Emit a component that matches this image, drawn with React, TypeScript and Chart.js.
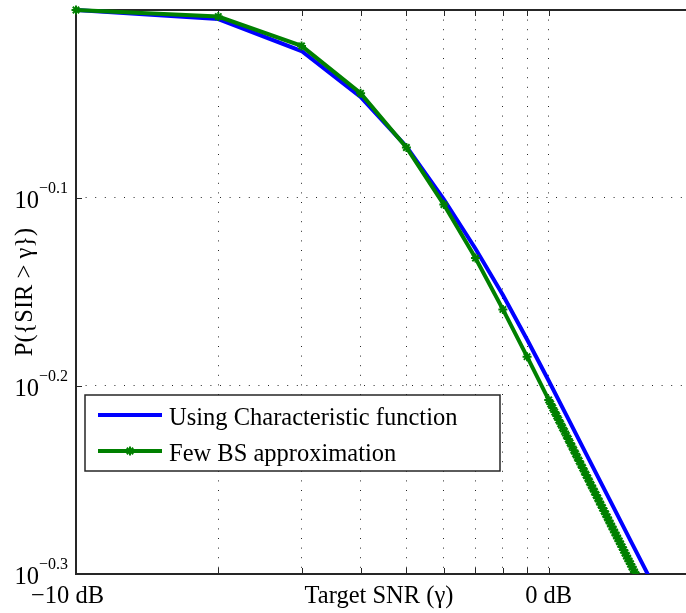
import React, { useEffect, useRef } from "react";
import { Chart, registerables } from "chart.js";

Chart.register(...registerables);

// ---------- data ----------
const charFnGamma = [0.1, 0.2, 0.3, 0.4, 0.5, 0.6, 0.7, 0.8, 0.9, 1.0, 1.1, 1.2, 1.3, 1.4, 1.5, 1.6, 1.7];
const charFnProb = [1.0, 0.989, 0.951, 0.899, 0.846, 0.793, 0.7465, 0.7054, 0.668, 0.635, 0.6061, 0.5806, 0.5583, 0.5383, 0.5203, 0.5042, 0.4893];

const fewBsGamma = [
  0.1, 0.2, 0.3, 0.4, 0.5, 0.6, 0.7, 0.8, 0.9,
  1.0, 1.01, 1.02, 1.03, 1.04, 1.05, 1.06, 1.07, 1.08, 1.09,
  1.1, 1.11, 1.12, 1.13, 1.14, 1.15, 1.16, 1.17, 1.18, 1.19,
  1.2, 1.21, 1.22, 1.23, 1.24, 1.25, 1.26, 1.27, 1.28, 1.29,
  1.3, 1.31, 1.32, 1.33, 1.34, 1.35, 1.36, 1.37, 1.38, 1.39,
  1.4, 1.41, 1.42, 1.43, 1.44, 1.45, 1.46, 1.47, 1.48, 1.49,
  1.5, 1.51, 1.52, 1.53, 1.54, 1.55, 1.56,
];
const fewBsProb = [
  1.0, 0.992, 0.957, 0.903, 0.845, 0.788, 0.738, 0.693, 0.654,
  0.6203, 0.6172, 0.6142, 0.6111, 0.6082, 0.6052, 0.6024, 0.5995, 0.5968, 0.5939,
  0.5913, 0.5885, 0.5859, 0.5832, 0.5807, 0.5781, 0.5756, 0.5731, 0.5707, 0.5682,
  0.5658, 0.5635, 0.5611, 0.5588, 0.5566, 0.5543, 0.5521, 0.5499, 0.5477, 0.5456,
  0.5434, 0.5414, 0.5393, 0.5373, 0.5352, 0.5332, 0.5312, 0.5293, 0.5273, 0.5254,
  0.5235, 0.5217, 0.5198, 0.518, 0.5161, 0.5144, 0.5125, 0.5108, 0.509, 0.5074,
  0.5056, 0.504, 0.5022, 0.5006, 0.4989, 0.4974, 0.4957,
];

const xGridValues = [0.1, 0.2, 0.3, 0.4, 0.5, 0.6, 0.7, 0.8, 0.9, 1.0];
const xLabelValues = [0.1, 1.0];
const xLabelTexts = ["\u221210 dB", "0 dB"];
const yTickExponents = [-0.3, -0.2, -0.1];
const yTickExpTexts = ["\u22120.3", "\u22120.2", "\u22120.1"];
const yTickBase = "10";

const xMin = 0.1;
const xMax = 2;
const yMinExp = -0.3;
const yMaxExp = 0;

const seriesNames = ["Using Characteristic function", "Few BS approximation"];
const xTitle = "Target SNR (\u03b3)";
const yTitle = "P({SIR > \u03b3})";

const BLUE = "#0000ff";
const GREEN = "#008000";
const AXIS = "#262626";
const FONT = "'Liberation Serif', 'Times New Roman', serif";

function drawStar(ctx: CanvasRenderingContext2D, x: number, y: number, r: number) {
  ctx.beginPath();
  ctx.moveTo(x - r, y);
  ctx.lineTo(x + r, y);
  ctx.moveTo(x, y - r);
  ctx.lineTo(x, y + r);
  const d = r * Math.SQRT1_2;
  ctx.moveTo(x - d, y - d);
  ctx.lineTo(x + d, y + d);
  ctx.moveTo(x - d, y + d);
  ctx.lineTo(x + d, y - d);
  ctx.stroke();
}

const matlabPlugin = {
  id: "matlabDecor",
  beforeDatasetsDraw(chart: any) {
    const { ctx, chartArea: a, scales } = chart;
    ctx.save();
    ctx.strokeStyle = AXIS;
    ctx.lineWidth = 1;
    // inward tick marks
    xGridValues.forEach((v) => {
      const px = Math.round(scales.x.getPixelForValue(v)) + 0.5;
      ctx.beginPath();
      ctx.moveTo(px, a.bottom);
      ctx.lineTo(px, a.bottom - 6);
      ctx.moveTo(px, a.top);
      ctx.lineTo(px, a.top + 6);
      ctx.stroke();
    });
    yTickExponents.forEach((e) => {
      const py = Math.round(scales.y.getPixelForValue(Math.pow(10, e))) + 0.5;
      ctx.beginPath();
      ctx.moveTo(a.left, py);
      ctx.lineTo(a.left + 6, py);
      ctx.stroke();
    });
    // box
    ctx.lineWidth = 2;
    ctx.strokeRect(a.left, a.top, a.right - a.left, a.bottom - a.top);
    ctx.restore();
  },
  afterDraw(chart: any) {
    const { ctx, chartArea: a, scales } = chart;
    ctx.save();
    ctx.fillStyle = "#000";

    // y tick labels 10^exp
    yTickExponents.forEach((e, i) => {
      const py = scales.y.getPixelForValue(Math.pow(10, e));
      const expRight = a.left - 8;
      ctx.font = `16px ${FONT}`;
      ctx.textAlign = "right";
      ctx.textBaseline = "alphabetic";
      const w = ctx.measureText(yTickExpTexts[i]).width;
      ctx.fillText(yTickExpTexts[i], expRight, py - 5);
      ctx.font = `24.5px ${FONT}`;
      ctx.fillText(yTickBase, expRight - w, py + 10);
    });

    // x tick labels
    ctx.font = `24.5px ${FONT}`;
    ctx.textAlign = "center";
    ctx.textBaseline = "alphabetic";
    xLabelValues.forEach((v, i) => {
      let px = scales.x.getPixelForValue(v);
      if (i === 0) px -= 8.5;
      ctx.fillText(xLabelTexts[i], px, 603);
    });
    // x title
    ctx.fillText(xTitle, 379, 603);

    // y title
    ctx.save();
    ctx.translate(32, (a.top + a.bottom) / 2);
    ctx.rotate(-Math.PI / 2);
    ctx.textAlign = "center";
    ctx.fillText(yTitle, 0, 0);
    ctx.restore();

    // legend
    const lx = 85, ly = 395, lw = 415, lh = 76;
    ctx.fillStyle = "#fff";
    ctx.fillRect(lx, ly, lw, lh);
    ctx.strokeStyle = AXIS;
    ctx.lineWidth = 1.5;
    ctx.strokeRect(lx, ly, lw, lh);
    const rows = [415, 451];
    const colors = [BLUE, GREEN];
    rows.forEach((ry, i) => {
      ctx.strokeStyle = colors[i];
      ctx.lineWidth = 4;
      ctx.beginPath();
      ctx.moveTo(98, ry);
      ctx.lineTo(162, ry);
      ctx.stroke();
      if (i === 1) {
        ctx.lineWidth = 2;
        drawStar(ctx, 130, ry, 4.5);
      }
      ctx.fillStyle = "#000";
      ctx.font = `24.5px ${FONT}`;
      ctx.textAlign = "left";
      ctx.textBaseline = "alphabetic";
      ctx.fillText(seriesNames[i], 169, ry + 9.5);
    });
    ctx.restore();
  },
};

export default function App() {
  const canvasRef = useRef<HTMLCanvasElement | null>(null);

  useEffect(() => {
    const canvas = canvasRef.current;
    if (!canvas) return;
    const gridColor = (ctx: any, skip: number[]) => {
      const v = ctx.tick ? ctx.tick.value : null;
      if (v == null) return "rgba(0,0,0,0)";
      for (const s of skip) if (Math.abs(v - s) < 1e-9) return "rgba(0,0,0,0)";
      return "rgba(0,0,0,0.85)";
    };
    const chart = new Chart(canvas, {
      type: "line",
      data: {
        datasets: [
          {
            label: seriesNames[0],
            data: charFnGamma.map((x, i) => ({ x, y: charFnProb[i] })),
            borderColor: BLUE,
            backgroundColor: BLUE,
            borderWidth: 4,
            pointRadius: 0,
            tension: 0,
            order: 2,
            clip: { left: 10, top: 10, right: 0, bottom: 0 } as any,
          },
          {
            label: seriesNames[1],
            data: fewBsGamma.map((x, i) => ({ x, y: fewBsProb[i] })),
            borderColor: GREEN,
            backgroundColor: GREEN,
            borderWidth: 4,
            pointStyle: "star",
            pointRadius: 4.5,
            pointBorderWidth: 2,
            pointBorderColor: GREEN,
            tension: 0,
            order: 1,
            clip: { left: 10, top: 10, right: 0, bottom: 0 } as any,
          },
        ],
      },
      options: {
        animation: false,
        responsive: false,
        maintainAspectRatio: false,
        layout: { padding: { left: 76, top: 10, right: 9, bottom: 39 } },
        plugins: { legend: { display: false }, tooltip: { enabled: false } },
        scales: {
          x: {
            type: "logarithmic",
            min: xMin,
            max: xMax,
            afterBuildTicks: (s: any) => {
              s.ticks = xGridValues.map((v) => ({ value: v }));
            },
            ticks: { display: false },
            grid: {
              drawTicks: false,
              lineWidth: 1,
              color: (c: any) => gridColor(c, [xMin, xMax]),
            },
            border: { display: false, dash: [1, 8.6] },
          },
          y: {
            type: "logarithmic",
            min: Math.pow(10, yMinExp),
            max: Math.pow(10, yMaxExp),
            afterBuildTicks: (s: any) => {
              s.ticks = yTickExponents.map((e) => ({ value: Math.pow(10, e) }));
            },
            ticks: { display: false },
            grid: {
              drawTicks: false,
              lineWidth: 1,
              color: (c: any) => gridColor(c, [Math.pow(10, yMinExp), Math.pow(10, yMaxExp)]),
            },
            border: { display: false, dash: [1, 8.6] },
          },
        },
      },
      plugins: [matlabPlugin],
    } as any);
    return () => chart.destroy();
  }, []);

  return (
    <div
      style={{
        position: "fixed",
        left: 0,
        top: 0,
        width: 686,
        height: 613,
        overflow: "hidden",
        background: "#fff",
      }}
    >
      <canvas ref={canvasRef} width={700} height={613} style={{ width: 700, height: 613, display: "block" }} />
    </div>
  );
}
